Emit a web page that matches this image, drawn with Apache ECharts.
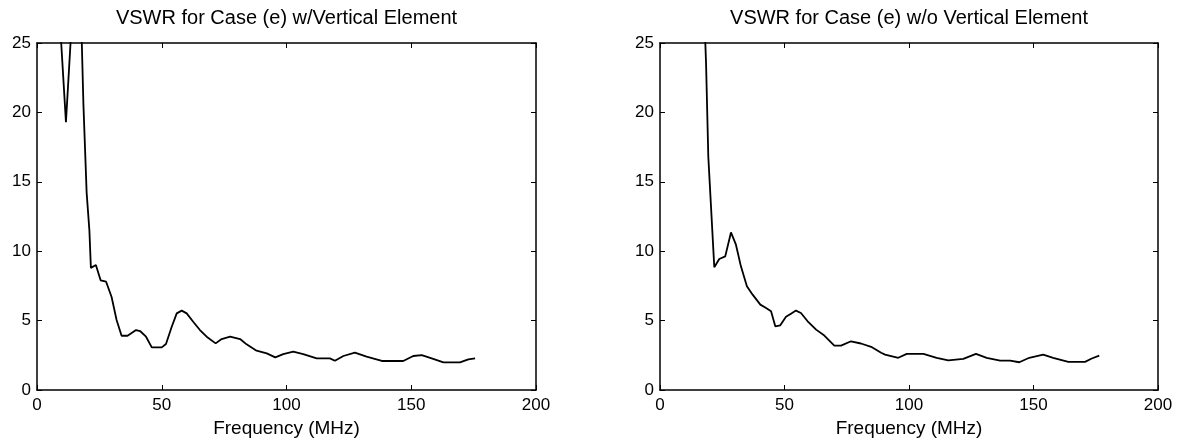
<!DOCTYPE html>
<html>
<head>
<meta charset="utf-8">
<script src="https://cdn.jsdelivr.net/npm/echarts@6/dist/echarts.min.js"></script>
<style>
  html, body { margin: 0; padding: 0; background: #fff; }
  #chart { width: 1185px; height: 447px; }
</style>
</head>
<body>
<div id="chart"></div>
<script>
// ---- Data ----
const titles = ['VSWR for Case (e) w/Vertical Element', 'VSWR for Case (e) w/o Vertical Element'];
const xAxisName = 'Frequency (MHz)';
const xTicks = [0, 50, 100, 150, 200];
const yTicks = [0, 5, 10, 15, 20, 25];

// Left plot: frequency (MHz) and VSWR
const freqWith = [9.6, 11.6, 13.6, 15.6, 17.6, 18.6, 19.9, 21.0, 21.6, 23.6, 25.5, 27.7, 29.9, 31.9, 33.9, 36.3, 39.7, 41.3, 43.7, 46.0, 50.0, 51.7, 54.0, 56.0, 58.0, 60.0, 62.6, 65.3, 68.0, 71.6, 74.0, 77.4, 81.4, 84.0, 88.0, 92.1, 95.5, 98.7, 102.7, 106.7, 112.1, 117.4, 119.4, 122.8, 127.4, 132.1, 138.2, 146.8, 150.8, 154.2, 158.2, 162.9, 169.5, 172.9, 175.6];
const vswrWith = [25.3, 19.3, 25.5, 35, 27.5, 20.6, 14.2, 11.5, 8.8, 9.0, 7.9, 7.8, 6.7, 5.04, 3.91, 3.91, 4.32, 4.25, 3.84, 3.07, 3.07, 3.31, 4.56, 5.52, 5.72, 5.52, 4.92, 4.32, 3.84, 3.36, 3.67, 3.84, 3.67, 3.29, 2.83, 2.64, 2.35, 2.59, 2.76, 2.59, 2.28, 2.28, 2.11, 2.45, 2.69, 2.40, 2.09, 2.09, 2.45, 2.52, 2.28, 1.99, 1.99, 2.21, 2.28];

// Right plot: frequency (MHz) and VSWR
const freqWithout = [16.0, 18.5, 19.4, 20.4, 21.8, 23.8, 26.2, 28.5, 30.5, 32.5, 34.9, 37.2, 40.3, 42.6, 44.6, 46.3, 48.3, 50.6, 52.6, 54.6, 56.6, 59.3, 62.7, 66.0, 70.0, 72.7, 76.7, 80.7, 84.8, 88.8, 90.4, 95.7, 99.1, 105.8, 111.1, 115.8, 121.8, 126.9, 131.2, 136.6, 140.6, 144.3, 148.3, 153.9, 157.9, 164.0, 170.7, 173.4, 176.4];
const vswrWithout = [36, 23.5, 16.8, 13.5, 8.85, 9.44, 9.63, 11.35, 10.47, 8.91, 7.47, 6.87, 6.15, 5.91, 5.67, 4.59, 4.66, 5.27, 5.50, 5.72, 5.55, 4.95, 4.35, 3.92, 3.20, 3.20, 3.51, 3.35, 3.11, 2.68, 2.55, 2.32, 2.60, 2.60, 2.32, 2.14, 2.24, 2.60, 2.32, 2.12, 2.12, 2.00, 2.32, 2.55, 2.32, 2.03, 2.03, 2.27, 2.48];

// ---- Chart ----
const FONT = '"Liberation Sans", Arial, sans-serif';
const grids = [
  { left: 37, top: 43, width: 499, height: 347 },
  { left: 660, top: 43, width: 498, height: 347 }
];
const pairs = (xs, ys) => xs.map((x, i) => [x, ys[i]]);

const option = {
  animation: false,
  backgroundColor: '#ffffff',
  title: titles.map((t, i) => ({
    text: t,
    left: grids[i].left + grids[i].width / 2,
    textAlign: 'center',
    top: 8,
    padding: 0,
    textStyle: { fontFamily: FONT, fontSize: 20, fontWeight: 'normal', color: '#000' }
  })),
  grid: grids.map(g => Object.assign({ containLabel: false }, g)),
  xAxis: [],
  yAxis: [],
  series: []
};

for (let i = 0; i < 2; i++) {
  const common = { min: 0, max: 200, interval: 50, gridIndex: i, splitLine: { show: false } };
  option.xAxis.push(Object.assign({}, common, {
    type: 'value', position: 'bottom',
    name: xAxisName, nameLocation: 'middle', nameGap: 27,
    nameTextStyle: { fontFamily: FONT, fontSize: 19, color: '#000' },
    axisLine: { show: true, onZero: false, lineStyle: { color: '#000', width: 1.5 } },
    axisTick: { show: true, inside: true, length: 5, lineStyle: { color: '#000', width: 1 } },
    axisLabel: { show: true, margin: 7, fontFamily: FONT, fontSize: 17, color: '#000',
      formatter: v => (xTicks.indexOf(v) >= 0 ? String(v) : '') }
  }));
  option.xAxis.push(Object.assign({}, common, {
    type: 'value', position: 'top',
    axisLine: { show: true, onZero: false, lineStyle: { color: '#000', width: 1.5 } },
    axisTick: { show: true, inside: true, length: 5, lineStyle: { color: '#000', width: 1 } },
    axisLabel: { show: false }
  }));
  const ycommon = { min: 0, max: 25, interval: 5, gridIndex: i, splitLine: { show: false } };
  option.yAxis.push(Object.assign({}, ycommon, {
    type: 'value', position: 'left',
    axisLine: { show: true, onZero: false, lineStyle: { color: '#000', width: 1.5 } },
    axisTick: { show: true, inside: true, length: 5, lineStyle: { color: '#000', width: 1 } },
    axisLabel: { show: true, margin: 6, fontFamily: FONT, fontSize: 17, color: '#000',
      formatter: v => (yTicks.indexOf(v) >= 0 ? String(v) : '') }
  }));
  option.yAxis.push(Object.assign({}, ycommon, {
    type: 'value', position: 'right',
    axisLine: { show: true, onZero: false, lineStyle: { color: '#000', width: 1.5 } },
    axisTick: { show: true, inside: true, length: 5, lineStyle: { color: '#000', width: 1 } },
    axisLabel: { show: false }
  }));
}

option.series = [
  { type: 'line', xAxisIndex: 0, yAxisIndex: 0, data: pairs(freqWith, vswrWith) },
  { type: 'line', xAxisIndex: 2, yAxisIndex: 2, data: pairs(freqWithout, vswrWithout) }
].map(s => Object.assign(s, {
  showSymbol: false, symbol: 'none', clip: true,
  lineStyle: { color: '#000', width: 1.8 }
}));

const chart = echarts.init(document.getElementById('chart'), null, { renderer: 'canvas' });
chart.setOption(option);
</script>
</body>
</html>
